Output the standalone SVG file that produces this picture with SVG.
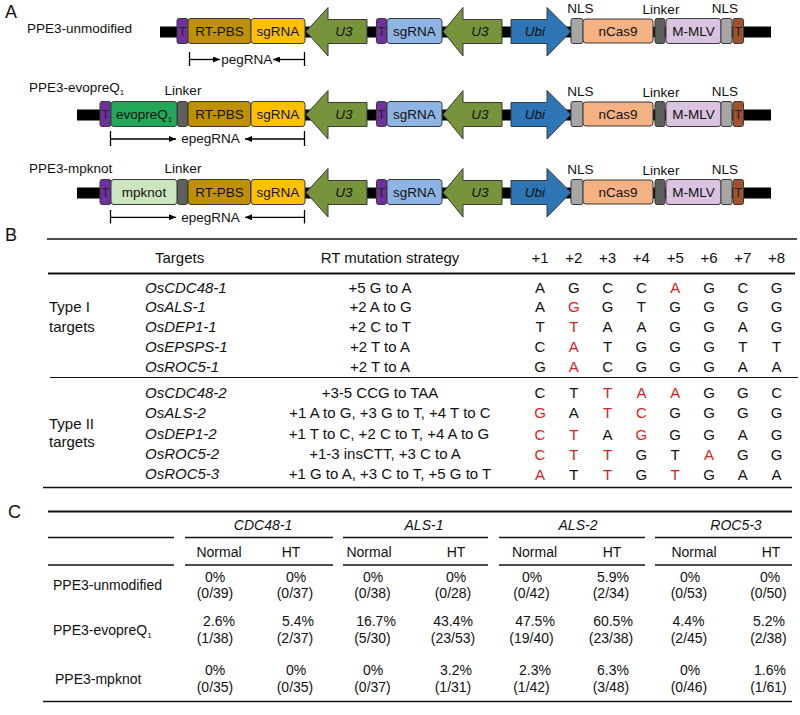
<svg xmlns="http://www.w3.org/2000/svg" width="800" height="715" viewBox="0 0 800 715">
<style>
text{font-family:"Liberation Sans",Arial,sans-serif;fill:#111}
.pl{font-size:18px}
.a{font-size:13.5px}
.b{font-size:15px}
.c{font-size:14px}
.i{font-style:italic}
.m{text-anchor:middle}
.r{fill:#E0201E}
.tl{font-size:12.5px;fill:#222}
.bx{stroke:#3a3a3a;stroke-width:1}
.bb{fill:#000}
.ln{stroke:#000;stroke-width:1.3;fill:none}
.ru{stroke:#111;fill:none}
</style>
<defs>
<marker id="ah" viewBox="0 0 7 6" refX="7" refY="3" markerWidth="7" markerHeight="6" orient="auto" markerUnits="userSpaceOnUse"><path d="M0,0 L7,3 L0,6 z" fill="#000"/></marker>
</defs>

<!-- Panel A -->
<text class="pl" x="5" y="17.5">A</text>

<!-- Construct 1 -->
<g id="construct1">
<text class="a" x="27" y="32.5">PPE3-unmodified</text>
<rect class="bb" x="160" y="26.5" width="611" height="11"/>
<g id="c1-T1"><rect class="bx" x="177" y="18.5" width="11" height="25" rx="2" fill="#7030A0"/><text class="tl m" x="182.5" y="36">T</text></g>
<g id="c1-rtpbs"><rect class="bx" x="188" y="18.5" width="63" height="25" rx="3" fill="#BF9000"/><text class="a m" x="219.5" y="36">RT-PBS</text></g>
<g id="c1-sgRNA"><rect class="bx" x="251" y="18.5" width="54" height="25" rx="3" fill="#FFC000"/><text class="a m" x="278" y="36">sgRNA</text></g>
<g id="c1-U3a"><polygon class="bx" points="306,31.5 328,7.5 328,19.5 367,19.5 367,43.5 328,43.5 328,56" fill="#77933C"/><text class="a i m" x="344" y="36">U3</text></g>
<g id="c1-T2"><rect class="bx" x="376.5" y="18.5" width="10" height="25" rx="2" fill="#7030A0"/><text class="tl m" x="381.5" y="36">T</text></g>
<g id="c1-sgRNA2"><rect class="bx" x="387" y="18.5" width="55" height="25" rx="3" fill="#8EB4E3"/><text class="a m" x="414.5" y="36">sgRNA</text></g>
<g id="c1-U3b"><polygon class="bx" points="443,31.5 463,7.5 463,19.5 502,19.5 502,43.5 463,43.5 463,56" fill="#77933C"/><text class="a i m" x="480" y="36">U3</text></g>
<g id="c1-Ubi"><polygon class="bx" points="511,19.5 547,19.5 547,7.5 571,31.5 547,56 547,43.5 511,43.5" fill="#2E75B6"/><text class="a i m" x="535" y="36">Ubi</text></g>
<g id="c1-NLS1"><rect class="bx" x="571" y="18.5" width="12" height="25" rx="2" fill="#A6A6A6"/><text class="a m" x="580.5" y="13">NLS</text></g>
<g id="c1-nCas9"><rect class="bx" x="583" y="19" width="70" height="24" rx="3" fill="#F4B183"/><text class="a m" x="618" y="36">nCas9</text></g>
<g id="c1-linker"><rect class="bx" x="655" y="18.5" width="10" height="25" rx="2" fill="#5F5F5F"/><text class="a m" x="661" y="13.5">Linker</text></g>
<g id="c1-MMLV"><rect class="bx" x="666" y="18.5" width="55" height="25" rx="3" fill="#D9C3DE"/><text class="a m" x="693.5" y="36">M-MLV</text></g>
<g id="c1-NLS2"><rect class="bx" x="721" y="18.5" width="11" height="25" rx="2" fill="#A6A6A6"/><text class="a m" x="725" y="13">NLS</text></g>
<g id="c1-T3"><rect class="bx" x="733" y="18.5" width="10.5" height="25" rx="2" fill="#A0522D"/><text class="tl m" x="738.2" y="36">T</text></g>
<g id="c1-bracket">
<line class="ln" x1="189.5" y1="52" x2="189.5" y2="66"/>
<line class="ln" x1="304.5" y1="52" x2="304.5" y2="66"/>
<line class="ln" x1="189.5" y1="59.5" x2="220" y2="59.5" marker-end="url(#ah)"/>
<line class="ln" x1="304.5" y1="59.5" x2="273" y2="59.5" marker-end="url(#ah)"/>
<text class="a m" x="246.7" y="63.5">pegRNA</text>
</g>
</g>

<!-- Construct 2 -->
<g id="construct2" transform="translate(0,83)">
<text class="a" x="29" y="9">PPE3-evopreQ<tspan font-size="8" dy="3">1</tspan></text>
<rect class="bb" x="77" y="26.5" width="694" height="11"/>
<g id="c2-T1"><rect class="bx" x="100" y="18.5" width="11" height="25" rx="2" fill="#7030A0"/><text class="tl m" x="105.5" y="36">T</text></g>
<g id="c2-evopreQ1"><rect class="bx" x="111" y="18.5" width="66" height="25" rx="3" fill="#22A85A"/><text class="a m" x="144" y="36">evopreQ<tspan font-size="8" dy="3">1</tspan></text></g>
<g id="c2-linkerL"><rect class="bx" x="177.5" y="18.5" width="10" height="25" rx="2" fill="#5F5F5F"/><text class="a m" x="183" y="12">Linker</text></g>
<g id="c2-rtpbs"><rect class="bx" x="188" y="18.5" width="62.5" height="25" rx="3" fill="#BF9000"/><text class="a m" x="219.5" y="36">RT-PBS</text></g>
<g id="c2-sgRNA"><rect class="bx" x="251" y="18.5" width="54" height="25" rx="3" fill="#FFC000"/><text class="a m" x="278" y="36">sgRNA</text></g>
<g id="c2-U3a"><polygon class="bx" points="306,31.5 328,7.5 328,19.5 367,19.5 367,43.5 328,43.5 328,56" fill="#77933C"/><text class="a i m" x="344" y="36">U3</text></g>
<g id="c2-T2"><rect class="bx" x="376.5" y="18.5" width="10" height="25" rx="2" fill="#7030A0"/><text class="tl m" x="381.5" y="36">T</text></g>
<g id="c2-sgRNA2"><rect class="bx" x="387" y="18.5" width="55" height="25" rx="3" fill="#8EB4E3"/><text class="a m" x="414.5" y="36">sgRNA</text></g>
<g id="c2-U3b"><polygon class="bx" points="443,31.5 463,7.5 463,19.5 502,19.5 502,43.5 463,43.5 463,56" fill="#77933C"/><text class="a i m" x="480" y="36">U3</text></g>
<g id="c2-Ubi"><polygon class="bx" points="511,19.5 547,19.5 547,7.5 571,31.5 547,56 547,43.5 511,43.5" fill="#2E75B6"/><text class="a i m" x="535" y="36">Ubi</text></g>
<g id="c2-NLS1"><rect class="bx" x="571" y="18.5" width="12" height="25" rx="2" fill="#A6A6A6"/><text class="a m" x="580.5" y="13">NLS</text></g>
<g id="c2-nCas9"><rect class="bx" x="583" y="19" width="70" height="24" rx="3" fill="#F4B183"/><text class="a m" x="618" y="36">nCas9</text></g>
<g id="c2-linker"><rect class="bx" x="655" y="18.5" width="10" height="25" rx="2" fill="#5F5F5F"/><text class="a m" x="661" y="13.5">Linker</text></g>
<g id="c2-MMLV"><rect class="bx" x="666" y="18.5" width="55" height="25" rx="3" fill="#D9C3DE"/><text class="a m" x="693.5" y="36">M-MLV</text></g>
<g id="c2-NLS2"><rect class="bx" x="721" y="18.5" width="11" height="25" rx="2" fill="#A6A6A6"/><text class="a m" x="725" y="13">NLS</text></g>
<g id="c2-T3"><rect class="bx" x="733" y="18.5" width="10.5" height="25" rx="2" fill="#A0522D"/><text class="tl m" x="738.2" y="36">T</text></g>
<g id="c2-bracket">
<line class="ln" x1="110.5" y1="48" x2="110.5" y2="63"/>
<line class="ln" x1="304.5" y1="48" x2="304.5" y2="63"/>
<line class="ln" x1="110.5" y1="56" x2="176" y2="56" marker-end="url(#ah)"/>
<line class="ln" x1="304.5" y1="56" x2="245" y2="56" marker-end="url(#ah)"/>
<text class="a m" x="210.5" y="60.3">epegRNA</text>
</g>
</g>

<!-- Construct 3 -->
<g id="construct3" transform="translate(0,161)">
<text class="a" x="29" y="11.5">PPE3-mpknot</text>
<rect class="bb" x="77" y="26.5" width="694" height="11"/>
<g id="c3-T1"><rect class="bx" x="100" y="18.5" width="11" height="25" rx="2" fill="#7030A0"/><text class="tl m" x="105.5" y="36">T</text></g>
<g id="c3-mpknot"><rect class="bx" x="111" y="18.5" width="66" height="25" rx="3" fill="#CDE5BE"/><text class="a m" x="144" y="36">mpknot</text></g>
<g id="c3-linkerL"><rect class="bx" x="177.5" y="18.5" width="10" height="25" rx="2" fill="#5F5F5F"/><text class="a m" x="183" y="11.7">Linker</text></g>
<g id="c3-rtpbs"><rect class="bx" x="188" y="18.5" width="62.5" height="25" rx="3" fill="#BF9000"/><text class="a m" x="219.5" y="36">RT-PBS</text></g>
<g id="c3-sgRNA"><rect class="bx" x="251" y="18.5" width="54" height="25" rx="3" fill="#FFC000"/><text class="a m" x="278" y="36">sgRNA</text></g>
<g id="c3-U3a"><polygon class="bx" points="306,31.5 328,7.5 328,19.5 367,19.5 367,43.5 328,43.5 328,56" fill="#77933C"/><text class="a i m" x="344" y="36">U3</text></g>
<g id="c3-T2"><rect class="bx" x="376.5" y="18.5" width="10" height="25" rx="2" fill="#7030A0"/><text class="tl m" x="381.5" y="36">T</text></g>
<g id="c3-sgRNA2"><rect class="bx" x="387" y="18.5" width="55" height="25" rx="3" fill="#8EB4E3"/><text class="a m" x="414.5" y="36">sgRNA</text></g>
<g id="c3-U3b"><polygon class="bx" points="443,31.5 463,7.5 463,19.5 502,19.5 502,43.5 463,43.5 463,56" fill="#77933C"/><text class="a i m" x="480" y="36">U3</text></g>
<g id="c3-Ubi"><polygon class="bx" points="511,19.5 547,19.5 547,7.5 571,31.5 547,56 547,43.5 511,43.5" fill="#2E75B6"/><text class="a i m" x="535" y="36">Ubi</text></g>
<g id="c3-NLS1"><rect class="bx" x="571" y="18.5" width="12" height="25" rx="2" fill="#A6A6A6"/><text class="a m" x="580.5" y="13">NLS</text></g>
<g id="c3-nCas9"><rect class="bx" x="583" y="19" width="70" height="24" rx="3" fill="#F4B183"/><text class="a m" x="618" y="36">nCas9</text></g>
<g id="c3-linker"><rect class="bx" x="655" y="18.5" width="10" height="25" rx="2" fill="#5F5F5F"/><text class="a m" x="661" y="13.5">Linker</text></g>
<g id="c3-MMLV"><rect class="bx" x="666" y="18.5" width="55" height="25" rx="3" fill="#D9C3DE"/><text class="a m" x="693.5" y="36">M-MLV</text></g>
<g id="c3-NLS2"><rect class="bx" x="721" y="18.5" width="11" height="25" rx="2" fill="#A6A6A6"/><text class="a m" x="725" y="13">NLS</text></g>
<g id="c3-T3"><rect class="bx" x="733" y="18.5" width="10.5" height="25" rx="2" fill="#A0522D"/><text class="tl m" x="738.2" y="36">T</text></g>
<g id="c3-bracket">
<line class="ln" x1="110.5" y1="49" x2="110.5" y2="62.5"/>
<line class="ln" x1="304.5" y1="49" x2="304.5" y2="62.5"/>
<line class="ln" x1="110.5" y1="56.3" x2="176" y2="56.3" marker-end="url(#ah)"/>
<line class="ln" x1="304.5" y1="56.3" x2="245" y2="56.3" marker-end="url(#ah)"/>
<text class="a m" x="210.5" y="60.7">epegRNA</text>
</g>
</g>

<!-- Panel B -->
<g id="panelB">
<text class="pl" x="5" y="241">B</text>
<line class="ru" x1="47" y1="239" x2="797" y2="239" stroke-width="1.5"/>
<line class="ru" x1="48" y1="273.5" x2="795" y2="273.5" stroke-width="2"/>
<line class="ru" x1="50" y1="377.5" x2="798" y2="377.5" stroke-width="1.2"/>
<line class="ru" x1="43" y1="487.5" x2="792" y2="487.5" stroke-width="1.5"/>
<g class="b">
<text class="b" x="155" y="263">Targets</text>
<text class="b m" x="390" y="263">RT mutation strategy</text>
<text class="b m" x="540" y="263">+1</text>
<text class="b m" x="573.8" y="263">+2</text>
<text class="b m" x="607.6" y="263">+3</text>
<text class="b m" x="641.4" y="263">+4</text>
<text class="b m" x="675.2" y="263">+5</text>
<text class="b m" x="709" y="263">+6</text>
<text class="b m" x="742.8" y="263">+7</text>
<text class="b m" x="776.6" y="263">+8</text>

<text class="b" x="49" y="312.3">Type I</text>
<text class="b" x="49" y="332">targets</text>
<text class="b" x="49" y="429">Type II</text>
<text class="b" x="49" y="447">targets</text>

<text class="b i" x="145" y="292.5">OsCDC48-1</text>
<text class="b i" x="145" y="312.3">OsALS-1</text>
<text class="b i" x="145" y="332.1">OsDEP1-1</text>
<text class="b i" x="145" y="351.9">OsEPSPS-1</text>
<text class="b i" x="145" y="371.7">OsROC5-1</text>
<text class="b i" x="145" y="398">OsCDC48-2</text>
<text class="b i" x="145" y="418.3">OsALS-2</text>
<text class="b i" x="145" y="438.8">OsDEP1-2</text>
<text class="b i" x="145" y="459">OsROC5-2</text>
<text class="b i" x="145" y="479">OsROC5-3</text>

<text class="b m" x="380" y="292.5">+5 G to A</text>
<text class="b m" x="380.5" y="312.3">+2 A to G</text>
<text class="b m" x="380" y="332.1">+2 C to T</text>
<text class="b m" x="380" y="351.9">+2 T to A</text>
<text class="b m" x="380" y="371.7">+2 T to A</text>
<text class="b m" x="380" y="398">+3-5 CCG to TAA</text>
<text class="b m" x="390" y="418.3">+1 A to G, +3 G to T, +4 T to C</text>
<text class="b m" x="389" y="438.8">+1 T to C, +2 C to T, +4 A to G</text>
<text class="b m" x="385" y="459">+1-3 insCTT, +3 C to A</text>
<text class="b m" x="390" y="479">+1 G to A, +3 C to T, +5 G to T</text>

<!-- row 1 -->
<text class="b m" x="540" y="292.5">A</text><text class="b m" x="573.8" y="292.5">G</text><text class="b m" x="607.6" y="292.5">C</text><text class="b m" x="641.4" y="292.5">C</text><text class="b m r" x="675.2" y="292.5">A</text><text class="b m" x="709" y="292.5">G</text><text class="b m" x="742.8" y="292.5">C</text><text class="b m" x="776.6" y="292.5">G</text>
<!-- row 2 -->
<text class="b m" x="540" y="312.3">A</text><text class="b m r" x="573.8" y="312.3">G</text><text class="b m" x="607.6" y="312.3">G</text><text class="b m" x="641.4" y="312.3">T</text><text class="b m" x="675.2" y="312.3">G</text><text class="b m" x="709" y="312.3">G</text><text class="b m" x="742.8" y="312.3">G</text><text class="b m" x="776.6" y="312.3">G</text>
<!-- row 3 -->
<text class="b m" x="540" y="332.1">T</text><text class="b m r" x="573.8" y="332.1">T</text><text class="b m" x="607.6" y="332.1">A</text><text class="b m" x="641.4" y="332.1">A</text><text class="b m" x="675.2" y="332.1">G</text><text class="b m" x="709" y="332.1">G</text><text class="b m" x="742.8" y="332.1">A</text><text class="b m" x="776.6" y="332.1">G</text>
<!-- row 4 -->
<text class="b m" x="540" y="351.9">C</text><text class="b m r" x="573.8" y="351.9">A</text><text class="b m" x="607.6" y="351.9">T</text><text class="b m" x="641.4" y="351.9">G</text><text class="b m" x="675.2" y="351.9">G</text><text class="b m" x="709" y="351.9">G</text><text class="b m" x="742.8" y="351.9">T</text><text class="b m" x="776.6" y="351.9">T</text>
<!-- row 5 -->
<text class="b m" x="540" y="371.7">G</text><text class="b m r" x="573.8" y="371.7">A</text><text class="b m" x="607.6" y="371.7">C</text><text class="b m" x="641.4" y="371.7">G</text><text class="b m" x="675.2" y="371.7">G</text><text class="b m" x="709" y="371.7">G</text><text class="b m" x="742.8" y="371.7">A</text><text class="b m" x="776.6" y="371.7">A</text>
<!-- row 6 -->
<text class="b m" x="540" y="398.3">C</text><text class="b m" x="573.8" y="398.3">T</text><text class="b m r" x="607.6" y="398.3">T</text><text class="b m r" x="641.4" y="398.3">A</text><text class="b m r" x="675.2" y="398.3">A</text><text class="b m" x="709" y="398.3">G</text><text class="b m" x="742.8" y="398.3">G</text><text class="b m" x="776.6" y="398.3">C</text>
<!-- row 7 -->
<text class="b m r" x="540" y="418.3">G</text><text class="b m" x="573.8" y="418.3">A</text><text class="b m r" x="607.6" y="418.3">T</text><text class="b m r" x="641.4" y="418.3">C</text><text class="b m" x="675.2" y="418.3">G</text><text class="b m" x="709" y="418.3">G</text><text class="b m" x="742.8" y="418.3">G</text><text class="b m" x="776.6" y="418.3">G</text>
<!-- row 8 -->
<text class="b m r" x="540" y="439.8">C</text><text class="b m r" x="573.8" y="439.8">T</text><text class="b m" x="607.6" y="439.8">A</text><text class="b m r" x="641.4" y="439.8">G</text><text class="b m" x="675.2" y="439.8">G</text><text class="b m" x="709" y="439.8">G</text><text class="b m" x="742.8" y="439.8">A</text><text class="b m" x="776.6" y="439.8">G</text>
<!-- row 9 -->
<text class="b m r" x="540" y="459.5">C</text><text class="b m r" x="573.8" y="459.5">T</text><text class="b m r" x="607.6" y="459.5">T</text><text class="b m" x="641.4" y="459.5">G</text><text class="b m" x="675.2" y="459.5">T</text><text class="b m r" x="709" y="459.5">A</text><text class="b m" x="742.8" y="459.5">G</text><text class="b m" x="776.6" y="459.5">G</text>
<!-- row 10 -->
<text class="b m r" x="540" y="479.5">A</text><text class="b m" x="573.8" y="479.5">T</text><text class="b m r" x="607.6" y="479.5">T</text><text class="b m" x="641.4" y="479.5">G</text><text class="b m r" x="675.2" y="479.5">T</text><text class="b m" x="709" y="479.5">G</text><text class="b m" x="742.8" y="479.5">A</text><text class="b m" x="776.6" y="479.5">A</text>
</g>
</g>

<!-- Panel C -->
<g id="panelC">
<text class="pl" x="8" y="517.5">C</text>
<line class="ru" x1="48" y1="511.5" x2="792" y2="511.5" stroke-width="2"/>
<g stroke-width="1.5">
<line class="ru" x1="48" y1="537.5" x2="174" y2="537.5"/>
<line class="ru" x1="185" y1="537.5" x2="333" y2="537.5"/>
<line class="ru" x1="343" y1="537.5" x2="488" y2="537.5"/>
<line class="ru" x1="499" y1="537.5" x2="645" y2="537.5"/>
<line class="ru" x1="655" y1="537.5" x2="792" y2="537.5"/>
<line class="ru" x1="48" y1="565" x2="174" y2="565"/>
<line class="ru" x1="185" y1="565" x2="333" y2="565"/>
<line class="ru" x1="343" y1="565" x2="488" y2="565"/>
<line class="ru" x1="499" y1="565" x2="645" y2="565"/>
<line class="ru" x1="655" y1="565" x2="792" y2="565"/>
</g>
<line class="ru" x1="43" y1="701.5" x2="792" y2="701.5" stroke-width="1.5"/>

<text class="c i m" x="263" y="529.5">CDC48-1</text>
<text class="c i m" x="424" y="529.5">ALS-1</text>
<text class="c i m" x="578" y="529.5">ALS-2</text>
<text class="c i m" x="736" y="529.5">ROC5-3</text>

<text class="c m" x="219" y="557">Normal</text>
<text class="c m" x="291" y="557">HT</text>
<text class="c m" x="369" y="557">Normal</text>
<text class="c m" x="456" y="557">HT</text>
<text class="c m" x="534.5" y="557">Normal</text>
<text class="c m" x="612" y="557">HT</text>
<text class="c m" x="694" y="557">Normal</text>
<text class="c m" x="771" y="557">HT</text>

<text class="c" x="53" y="590">PPE3-unmodified</text>
<text class="c" x="53" y="635">PPE3-evopreQ<tspan font-size="8" dy="3">1</tspan></text>
<text class="c" x="55" y="684">PPE3-mpknot</text>

<!-- row 1 -->
<text class="c m" x="215" y="581.7">0%</text><text class="c m" x="215" y="598.3">(0/39)</text>
<text class="c m" x="296" y="581.7">0%</text><text class="c m" x="295" y="598.3">(0/37)</text>
<text class="c m" x="373" y="581.7">0%</text><text class="c m" x="372.5" y="598.3">(0/38)</text>
<text class="c m" x="456" y="581.7">0%</text><text class="c m" x="453" y="598.3">(0/28)</text>
<text class="c m" x="532" y="581.7">0%</text><text class="c m" x="531.5" y="598.3">(0/42)</text>
<text class="c m" x="613" y="581.7">5.9%</text><text class="c m" x="611" y="598.3">(2/34)</text>
<text class="c m" x="690" y="581.7">0%</text><text class="c m" x="689" y="598.3">(0/53)</text>
<text class="c m" x="770" y="581.7">0%</text><text class="c m" x="768.5" y="598.3">(0/50)</text>
<!-- row 2 -->
<text class="c m" x="219" y="626">2.6%</text><text class="c m" x="215" y="642.7">(1/38)</text>
<text class="c m" x="298" y="626">5.4%</text><text class="c m" x="295" y="642.7">(2/37)</text>
<text class="c m" x="376" y="626">16.7%</text><text class="c m" x="372.5" y="642.7">(5/30)</text>
<text class="c m" x="453" y="626">43.4%</text><text class="c m" x="453" y="642.7">(23/53)</text>
<text class="c m" x="535" y="626">47.5%</text><text class="c m" x="531.5" y="642.7">(19/40)</text>
<text class="c m" x="613" y="626">60.5%</text><text class="c m" x="611" y="642.7">(23/38)</text>
<text class="c m" x="688.5" y="626">4.4%</text><text class="c m" x="689" y="642.7">(2/45)</text>
<text class="c m" x="769" y="626">5.2%</text><text class="c m" x="768.5" y="642.7">(2/38)</text>
<!-- row 3 -->
<text class="c m" x="215" y="675">0%</text><text class="c m" x="215" y="691.7">(0/35)</text>
<text class="c m" x="296" y="675">0%</text><text class="c m" x="295" y="691.7">(0/35)</text>
<text class="c m" x="373" y="675">0%</text><text class="c m" x="372.5" y="691.7">(0/37)</text>
<text class="c m" x="456" y="675">3.2%</text><text class="c m" x="453" y="691.7">(1/31)</text>
<text class="c m" x="535" y="675">2.3%</text><text class="c m" x="531.5" y="691.7">(1/42)</text>
<text class="c m" x="613" y="675">6.3%</text><text class="c m" x="611" y="691.7">(3/48)</text>
<text class="c m" x="690" y="675">0%</text><text class="c m" x="689" y="691.7">(0/46)</text>
<text class="c m" x="770" y="675">1.6%</text><text class="c m" x="768.5" y="691.7">(1/61)</text>
</g>
</svg>
